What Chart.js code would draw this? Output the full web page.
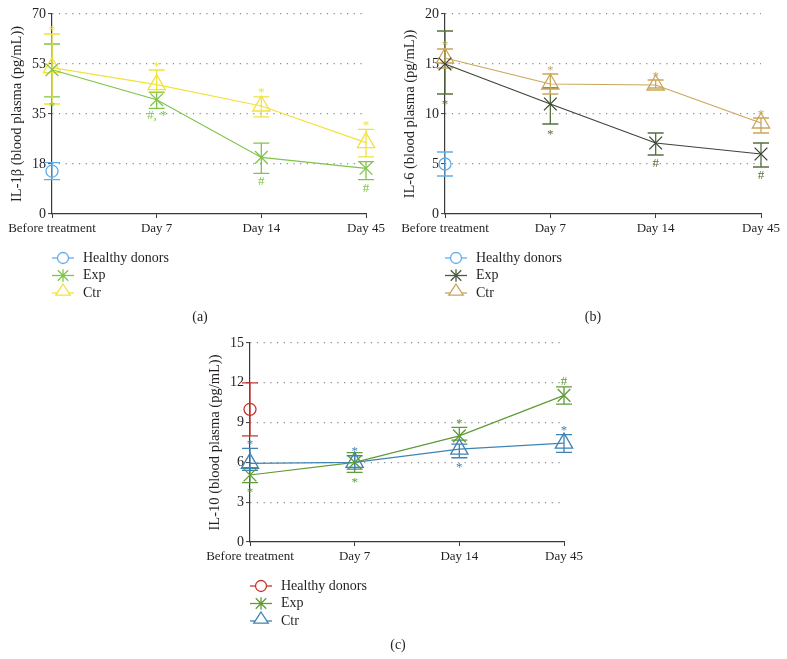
<!DOCTYPE html>
<html><head><meta charset="utf-8">
<script src="https://cdn.jsdelivr.net/npm/chart.js@4.4.1/dist/chart.umd.min.js"></script>
<style>
html,body{margin:0;padding:0;background:#fff;}
#wrap{position:relative;width:787px;height:659px;overflow:hidden;background:#fff;}
canvas{position:absolute;}
</style></head><body>
<div id="wrap">
<canvas id="ca" width="393" height="330" style="left:0;top:0"></canvas>
<canvas id="cb" width="394" height="330" style="left:393px;top:0"></canvas>
<canvas id="cc" width="394" height="329" style="left:198px;top:330px"></canvas>
</div>
<script>
const CATEGORIES = ['Before treatment', 'Day 7', 'Day 14', 'Day 45'];
const LEGEND_LABELS = ['Healthy donors', 'Exp', 'Ctr'];

// ---- Panel (a): IL-1β ----
const A_TICK_LABELS = ['0', '18', '35', '53', '70'];
const A_HEALTHY = [15, null, null, null];
const A_HEALTHY_LOW = [12, null, null, null];
const A_HEALTHY_HIGH = [18, null, null, null];
const A_EXP = [50.5, 40, 19.8, 16];
const A_EXP_LOW = [41, 37, 14.2, 12];
const A_EXP_HIGH = [59.5, 42.6, 24.8, 18.3];
const A_EXP_MARKS = ['*', '#, *', '#', '#'];
const A_EXP_SIDES = ['below', 'below', 'below', 'below'];
const A_CTR = [51.2, 45.3, 37.8, 25];
const A_CTR_LOW = [38.5, 42.8, 34, 20];
const A_CTR_HIGH = [63, 50.4, 41, 29.6];
const A_CTR_MARKS = ['*', '*', '*', '*'];
const A_CTR_SIDES = ['above', 'above', 'above', 'above'];

// ---- Panel (b): IL-6 ----
const B_TICK_LABELS = ['0', '5', '10', '15', '20'];
const B_HEALTHY = [5, null, null, null];
const B_HEALTHY_LOW = [3.8, null, null, null];
const B_HEALTHY_HIGH = [6.2, null, null, null];
const B_EXP = [15, 11, 7.1, 6];
const B_EXP_LOW = [12, 9, 5.9, 4.7];
const B_EXP_HIGH = [18.3, 12.6, 8.1, 7.1];
const B_EXP_MARKS = ['*', '*', '#', '#'];
const B_EXP_SIDES = ['below', 'below', 'below', 'below'];
const B_CTR = [15.6, 13, 12.9, 9.1];
const B_CTR_LOW = [14.6, 12, 12.6, 8.1];
const B_CTR_HIGH = [16.5, 14, 13.4, 9.6];
const B_CTR_MARKS = ['*', '*', '*', '*'];
const B_CTR_SIDES = ['above', 'above', 'above', 'above'];

// ---- Panel (c): IL-10 ----
const C_TICK_LABELS = ['0', '3', '6', '9', '12', '15'];
const C_HEALTHY = [10, null, null, null];
const C_HEALTHY_LOW = [8, null, null, null];
const C_HEALTHY_HIGH = [12, null, null, null];
const C_EXP = [5.05, 6, 8, 11.05];
const C_EXP_LOW = [4.47, 5.25, 7.68, 10.4];
const C_EXP_HIGH = [5.6, 6.73, 8.64, 11.7];
const C_EXP_MARKS = ['*', '*', '*', '#'];
const C_EXP_SIDES = ['below', 'below', 'above', 'above'];
const C_CTR = [5.93, 6, 7, 7.45];
const C_CTR_LOW = [5.4, 5.5, 6.35, 6.75];
const C_CTR_HIGH = [7.06, 6.5, 7.38, 8.1];
const C_CTR_MARKS = ['*', '*', '*', '*'];
const C_CTR_SIDES = ['above', 'above', 'below', 'above'];

const SERIF = "'Liberation Serif', 'Times New Roman', serif";
const TEXT = '#231f20';
const AXIS = '#3a3a3a';

function markerPath(ctx, style, x, y, r) {
  ctx.beginPath();
  if (style === 'circle') {
    ctx.arc(x, y, r, 0, Math.PI * 2);
  } else if (style === 'triangle') {
    const h = r * 1.4, w = r * 1.8;
    ctx.moveTo(x, y - r);
    ctx.lineTo(x + w / 2, y - r + h);
    ctx.lineTo(x - w / 2, y - r + h);
    ctx.closePath();
  } else {
    const d = r * 0.75;
    ctx.moveTo(x - d, y - d); ctx.lineTo(x + d, y + d);
    ctx.moveTo(x + d, y - d); ctx.lineTo(x - d, y + d);
    ctx.moveTo(x, y - r * 0.9); ctx.lineTo(x, y + r * 0.9);
  }
}

const extras = {
  id: 'extras',
  beforeDatasetsDraw(chart) {
    const { ctx, scales: { x, y } } = chart;
    chart.data.datasets.forEach(ds => {
      ctx.save();
      ctx.strokeStyle = ds.errColor || ds.borderColor;
      ctx.lineWidth = 1.3;
      ds.data.forEach((v, j) => {
        if (v == null || ds.errLow[j] == null) return;
        const px = x.getPixelForValue(j);
        const yl = y.getPixelForValue(ds.errLow[j]);
        const yh = y.getPixelForValue(ds.errHigh[j]);
        ctx.beginPath();
        ctx.moveTo(px, yl); ctx.lineTo(px, yh);
        ctx.moveTo(px - 8, yl); ctx.lineTo(px + 8, yl);
        ctx.moveTo(px - 8, yh); ctx.lineTo(px + 8, yh);
        ctx.stroke();
      });
      ctx.restore();
    });
  },
  afterDatasetsDraw(chart) {
    const { ctx, scales: { x, y } } = chart;
    chart.data.datasets.forEach(ds => {
      if (!ds.marks) return;
      ctx.save();
      ctx.fillStyle = ds.errColor || ds.borderColor;
      ctx.font = '13px ' + SERIF;
      ctx.textAlign = 'center';
      ctx.textBaseline = 'alphabetic';
      ds.data.forEach((v, j) => {
        const m = ds.marks[j];
        if (!m) return;
        const px = x.getPixelForValue(j);
        const tm = ctx.measureText(m);
        const visOff = (tm.actualBoundingBoxAscent - tm.actualBoundingBoxDescent) / 2;
        let cy;
        if (ds.sides[j] === 'above') cy = y.getPixelForValue(ds.errHigh[j]) - 6;
        else cy = y.getPixelForValue(ds.errLow[j]) + 8;
        ctx.fillText(m, px, cy + visOff);
      });
      ctx.restore();
    });
  },
  afterDraw(chart) {
    const { ctx, chartArea: a } = chart;
    const opts = chart.options.plugins.extras;
    ctx.save();
    chart.data.datasets.forEach((ds, i) => {
      const ry = a.bottom + 44 + i * 17.5;
      const cx = a.left + 11;
      ctx.strokeStyle = ds.legendColor || ds.borderColor;
      ctx.lineWidth = 1.3;
      ctx.beginPath(); ctx.moveTo(a.left, ry); ctx.lineTo(a.left + 22, ry); ctx.stroke();
      const st = ds.pointStyle === 'crossRot' ? 'star' : ds.pointStyle;
      const r = st === 'triangle' ? 8 : (st === 'circle' ? 5.5 : 7);
      ctx.fillStyle = '#fff';
      markerPath(ctx, st, cx, st === 'triangle' ? ry - 1 : ry, r);
      if (st !== 'star') ctx.fill();
      ctx.stroke();
      ctx.fillStyle = TEXT;
      ctx.font = '14px ' + SERIF;
      ctx.textAlign = 'left';
      ctx.textBaseline = 'middle';
      ctx.fillText(ds.label, a.left + 31, ry);
    });
    ctx.font = '14px ' + SERIF;
    ctx.textAlign = 'center';
    ctx.textBaseline = 'middle';
    ctx.fillStyle = TEXT;
    ctx.fillText(opts.caption, a.left + 148, a.bottom + 103);
    ctx.restore();
  }
};

function series(label, color, style, data, low, high, marks, sides, extra) {
  const r = style === 'triangle' ? 10 : (style === 'circle' ? 6 : 9);
  return Object.assign({
    label, data, errLow: low, errHigh: high, marks, sides,
    borderColor: color, backgroundColor: 'rgba(0,0,0,0)',
    pointStyle: style, pointRadius: r, pointBorderColor: color,
    pointBackgroundColor: 'rgba(0,0,0,0)', pointBorderWidth: 1.3,
    borderWidth: 1.2, tension: 0, spanGaps: false
  }, extra || {});
}

function buildChart(id, p) {
  return new Chart(document.getElementById(id), {
    type: 'line',
    data: { labels: CATEGORIES, datasets: p.datasets },
    options: {
      responsive: false, animation: false, events: [],
      layout: { padding: { left: 0, top: p.padTop, right: p.padRight, bottom: p.padBottom } },
      plugins: { legend: { display: false }, tooltip: { enabled: false }, extras: { caption: p.caption } },
      scales: {
        x: {
          type: 'category', offset: false,
          afterFit: s => { s.height = 31; },
          grid: { drawOnChartArea: false, tickLength: 4, tickColor: AXIS, tickWidth: 1 },
          border: { color: AXIS, width: 1.2 },
          ticks: { color: TEXT, font: { family: SERIF, size: 13 }, padding: 3, maxRotation: 0, autoSkip: false }
        },
        y: {
          min: 0, max: p.max,
          afterFit: s => { s.width = 52; },
          afterBuildTicks: s => { s.ticks = p.tickLabels.map((t, i) => ({ value: i * p.step })); },
          grid: {
            color: c => (c.tick && c.tick.value === 0) ? 'rgba(0,0,0,0)' : '#8a8a8a',
            lineWidth: 1.2, tickLength: 4, tickColor: AXIS, tickWidth: 1
          },
          border: { color: AXIS, width: 1.2, dash: [1.2, 5.5] },
          ticks: {
            color: TEXT, font: { family: SERIF, size: 14 }, padding: 2,
            callback: (v, i) => p.tickLabels[i]
          },
          title: { display: true, text: p.yTitle, color: TEXT, font: { family: SERIF, size: 14.5 }, padding: { top: 8, bottom: 0 } }
        }
      }
    },
    plugins: [extras]
  });
}

buildChart('ca', {
  yTitle: 'IL-1β (blood plasma (pg/mL))', max: 70, step: 17.5, tickLabels: A_TICK_LABELS,
  padTop: 14, padRight: 27, padBottom: 85, caption: '(a)',
  datasets: [
    series(LEGEND_LABELS[0], '#62aee8', 'circle', A_HEALTHY, A_HEALTHY_LOW, A_HEALTHY_HIGH, null, null),
    series(LEGEND_LABELS[1], '#80c44a', 'crossRot', A_EXP, A_EXP_LOW, A_EXP_HIGH, A_EXP_MARKS, A_EXP_SIDES),
    series(LEGEND_LABELS[2], '#f2e23c', 'triangle', A_CTR, A_CTR_LOW, A_CTR_HIGH, A_CTR_MARKS, A_CTR_SIDES)
  ]
});

buildChart('cb', {
  yTitle: 'IL-6 (blood plasma (pg/mL))', max: 20, step: 5, tickLabels: B_TICK_LABELS,
  padTop: 14, padRight: 26, padBottom: 85, caption: '(b)',
  datasets: [
    series(LEGEND_LABELS[0], '#62aee8', 'circle', B_HEALTHY, B_HEALTHY_LOW, B_HEALTHY_HIGH, null, null),
    series(LEGEND_LABELS[1], '#3d4636', 'crossRot', B_EXP, B_EXP_LOW, B_EXP_HIGH, B_EXP_MARKS, B_EXP_SIDES,
      { errColor: '#55703e', legendColor: '#4a5a40' }),
    series(LEGEND_LABELS[2], '#c9a65a', 'triangle', B_CTR, B_CTR_LOW, B_CTR_HIGH, B_CTR_MARKS, B_CTR_SIDES)
  ]
});

buildChart('cc', {
  yTitle: 'IL-10 (blood plasma (pg/mL))', max: 15, step: 3, tickLabels: C_TICK_LABELS,
  padTop: 13, padRight: 28, padBottom: 86, caption: '(c)',
  datasets: [
    series(LEGEND_LABELS[0], '#c9352b', 'circle', C_HEALTHY, C_HEALTHY_LOW, C_HEALTHY_HIGH, null, null),
    series(LEGEND_LABELS[1], '#5f9b36', 'crossRot', C_EXP, C_EXP_LOW, C_EXP_HIGH, C_EXP_MARKS, C_EXP_SIDES),
    series(LEGEND_LABELS[2], '#3f83b3', 'triangle', C_CTR, C_CTR_LOW, C_CTR_HIGH, C_CTR_MARKS, C_CTR_SIDES)
  ]
});
</script>
</body></html>
